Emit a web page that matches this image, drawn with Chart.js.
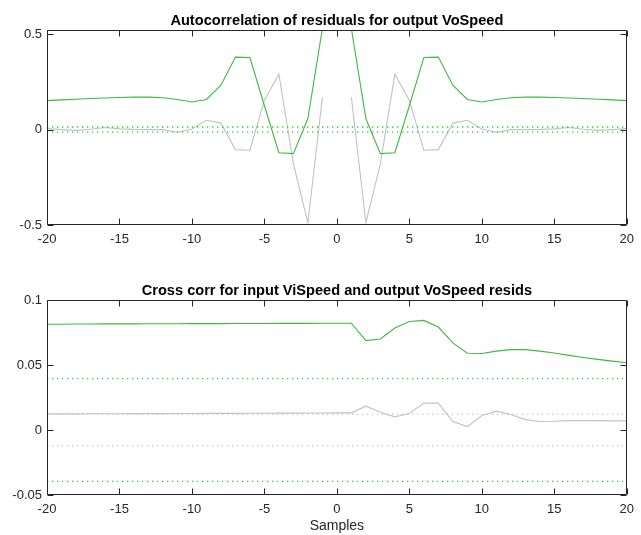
<!DOCTYPE html>
<html>
<head>
<meta charset="utf-8">
<script src="https://cdn.jsdelivr.net/npm/chart.js@4.4.1/dist/chart.umd.min.js"></script>
<style>
  body { margin: 0; background: #fff; }
  canvas { position: absolute; left: 0; }
  #acf { top: 0; }
  #ccf { top: 260px; }
</style>
</head>
<body>
<canvas id="acf" width="641" height="260"></canvas>
<canvas id="ccf" width="641" height="275"></canvas>
<script>
const lags = [-20, -19, -18, -17, -16, -15, -14, -13, -12, -11, -10, -9, -8, -7, -6, -5, -4, -3, -2, -1,
  0, 1, 2, 3, 4, 5, 6, 7, 8, 9, 10, 11, 12, 13, 14, 15, 16, 17, 18, 19, 20];

// autocorrelation of residuals
const acfGreen = [0.152, 0.156, 0.159, 0.163, 0.166, 0.168, 0.170, 0.170, 0.167, 0.158, 0.145, 0.158, 0.233, 0.380, 0.378, 0.125, -0.121, -0.126, 0.058, 0.53,
  1.0, 0.53, 0.058, -0.126, -0.121, 0.125, 0.378, 0.380, 0.233, 0.158, 0.145, 0.158, 0.167, 0.170, 0.170, 0.168, 0.166, 0.163, 0.159, 0.156, 0.152];
const acfGray = [0.005, 0.0, -0.004, 0.002, 0.011, 0.004, 0.001, 0.0, 0.0, -0.014, 0.003, 0.049, 0.034, -0.105, -0.108, 0.154, 0.290, -0.180, -0.488, 0.169,
  null, 0.169, -0.488, -0.180, 0.290, 0.154, -0.108, -0.105, 0.034, 0.049, 0.003, -0.014, 0.0, 0.0, 0.001, 0.004, 0.011, 0.002, -0.004, 0.0, 0.005];
const acfConf = [0.0135, -0.0135];
const acfTicks = [-0.5, 0, 0.5];

// cross correlation input/residuals
const ccfGreen = [0.0814, 0.0814, 0.0815, 0.0815, 0.0816, 0.0816, 0.0816, 0.0817, 0.0817, 0.0817, 0.0818, 0.0818, 0.0818, 0.0819, 0.0819, 0.0819, 0.0820, 0.0820, 0.0820, 0.0821,
  0.0821, 0.0821, 0.0688, 0.0700, 0.0784, 0.0835, 0.0843, 0.0792, 0.0670, 0.0590, 0.0588, 0.0607, 0.0618, 0.0618, 0.0607, 0.0592, 0.0574, 0.0558, 0.0543, 0.0530, 0.0517];
const ccfGray = [0.0124, 0.0124, 0.0124, 0.0125, 0.0125, 0.0125, 0.0126, 0.0126, 0.0126, 0.0127, 0.0127, 0.0128, 0.0128, 0.0128, 0.0129, 0.0129, 0.0130, 0.0130, 0.0131, 0.0131,
  0.0132, 0.0132, 0.0183, 0.0137, 0.0101, 0.0127, 0.0207, 0.0207, 0.0065, 0.0026, 0.0111, 0.0145, 0.0119, 0.0080, 0.0065, 0.0067, 0.0072, 0.0072, 0.0072, 0.0070, 0.0070];
const ccfConfGreen = [0.0395, -0.0395];
const ccfConfGray = [0.0121, -0.0121];
const ccfTicks = [-0.05, 0, 0.05, 0.1];

const xTicks = [-20, -15, -10, -5, 0, 5, 10, 15, 20];

const GREEN = "#3dbb3d";
const GREEN_DOT = "#2fcc2f";
const GRAY = "#c2c2c2";
const GRAY_DOT = "#cdcdcd";
const AXIS = "#262626";
const FONT = "'Liberation Sans', Arial, sans-serif";

Chart.defaults.font.family = FONT;
Chart.defaults.font.size = 13;
Chart.defaults.color = AXIS;

// box around the axes with inward tick marks, plus the bold title above
const framePlugin = {
  id: "frame",
  afterDraw(chart, args, opts) {
    const ctx = chart.ctx;
    const a = chart.chartArea;
    const xs = chart.scales.x;
    const ys = chart.scales.y;
    const L = Math.round(a.left) + 0.5;
    const R = Math.round(a.right) - 0.5;
    const T = Math.round(a.top) + 0.5;
    const B = Math.round(a.bottom) - 0.5;
    ctx.save();
    ctx.strokeStyle = AXIS;
    ctx.lineWidth = 1;
    ctx.beginPath();
    ctx.moveTo(L, T);
    ctx.lineTo(R, T);
    ctx.lineTo(R, B);
    ctx.lineTo(L, B);
    ctx.closePath();
    xs.ticks.forEach((t) => {
      const px = Math.round(xs.getPixelForValue(t.value)) + 0.5;
      ctx.moveTo(px, B);
      ctx.lineTo(px, B - 6);
      ctx.moveTo(px, T);
      ctx.lineTo(px, T + 6);
    });
    ys.ticks.forEach((t) => {
      const py = Math.round(ys.getPixelForValue(t.value)) + 0.5;
      ctx.moveTo(L, py);
      ctx.lineTo(L + 6, py);
      ctx.moveTo(R, py);
      ctx.lineTo(R - 6, py);
    });
    ctx.stroke();

    ctx.fillStyle = "#000";
    ctx.font = "bold 14.6px " + FONT;
    ctx.textAlign = "center";
    ctx.textBaseline = "middle";
    ctx.fillText(opts.text, (a.left + a.right) / 2, a.top - 9);
    ctx.restore();
  },
};

function pts(ys) {
  return lags.map((x, i) => ({ x: x, y: ys[i] }));
}

function flat(v) {
  return [{ x: lags[0], y: v }, { x: lags[lags.length - 1], y: v }];
}

function solid(data, color) {
  return { data: pts(data), borderColor: color, borderWidth: 1.1, pointRadius: 0, tension: 0 };
}

function dotted(v, color) {
  return { data: flat(v), borderColor: color, borderWidth: 1.3, borderDash: [1.3, 3.7], pointRadius: 0 };
}

function makePanel(id, cfg) {
  const canvas = document.getElementById(id);
  return new Chart(canvas.getContext("2d"), {
    type: "line",
    data: { datasets: cfg.datasets },
    options: {
      responsive: false,
      animation: false,
      layout: { padding: { top: cfg.top, right: 8.5, left: 0, bottom: 0 } },
      plugins: {
        legend: { display: false },
        tooltip: { enabled: false },
        frame: { text: cfg.title },
      },
      scales: {
        x: {
          type: "linear",
          min: -20,
          max: 20,
          grid: { display: false, drawTicks: false },
          border: { display: false },
          ticks: { padding: 7, maxRotation: 0 },
          afterBuildTicks: (s) => { s.ticks = xTicks.map((v) => ({ value: v })); },
          afterFit: (s) => { s.height = cfg.xHeight; },
          title: cfg.xTitle
            ? { display: true, text: cfg.xTitle, padding: { top: 0, bottom: 0 }, font: { size: 14 } }
            : { display: false },
        },
        y: {
          min: cfg.yMin,
          max: cfg.yMax,
          grid: { display: false, drawTicks: false },
          border: { display: false },
          ticks: { padding: 5, callback: (v) => String(v) },
          afterBuildTicks: (s) => { s.ticks = cfg.yTicks.map((v) => ({ value: v })); },
          afterFit: (s) => { s.width = 47; },
        },
      },
    },
    plugins: [framePlugin],
  });
}

makePanel("acf", {
  title: "Autocorrelation of residuals for output VoSpeed",
  top: 30,
  xHeight: 35,
  yMin: -0.5,
  yMax: 0.522,
  yTicks: acfTicks,
  datasets: [
    dotted(acfConf[0], GREEN_DOT),
    dotted(acfConf[1], GREEN_DOT),
    solid(acfGreen, GREEN),
    solid(acfGray, GRAY),
  ],
});

makePanel("ccf", {
  title: "Cross corr for input ViSpeed and output VoSpeed resids",
  top: 40,
  xHeight: 40,
  xTitle: "Samples",
  yMin: -0.05,
  yMax: 0.1,
  yTicks: ccfTicks,
  datasets: [
    solid(ccfGreen, GREEN),
    dotted(ccfConfGreen[0], GREEN_DOT),
    dotted(ccfConfGreen[1], GREEN_DOT),
    solid(ccfGray, GRAY),
    dotted(ccfConfGray[0], GRAY_DOT),
    dotted(ccfConfGray[1], GRAY_DOT),
  ],
});
</script>
</body>
</html>
